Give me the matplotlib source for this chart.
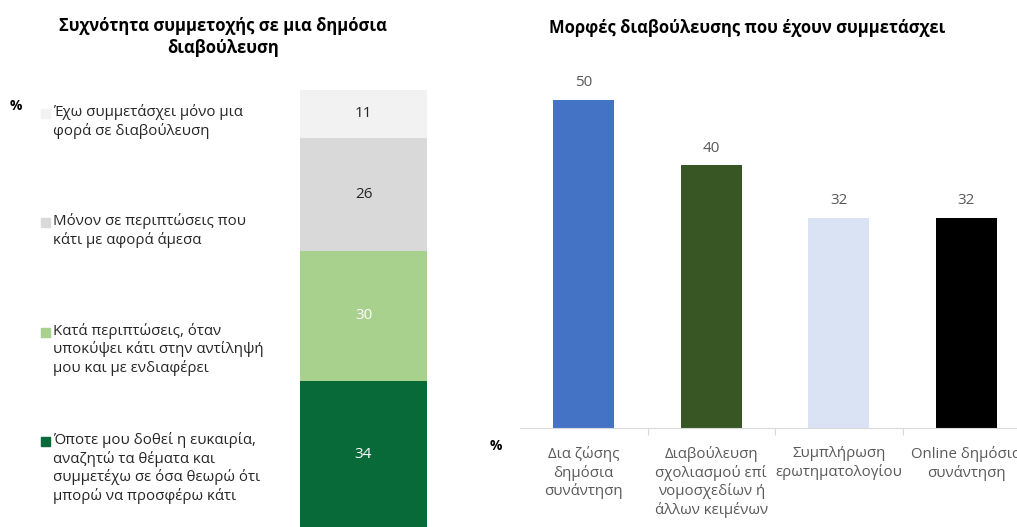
import matplotlib.pyplot as plt
from matplotlib.patches import Rectangle

plt.rcParams['font.family'] = ['Open Sans', 'DejaVu Sans']

# left chart: stacked frequency of participation (bottom -> top)
freq_labels = [
    'Όποτε μου δοθεί η ευκαιρία,\nαναζητώ τα θέματα και\nσυμμετέχω σε όσα θεωρώ ότι\nμπορώ να προσφέρω κάτι',
    'Κατά περιπτώσεις, όταν\nυποκύψει κάτι στην αντίληψή\nμου και με ενδιαφέρει',
    'Μόνον σε περιπτώσεις που\nκάτι με αφορά άμεσα',
    'Έχω συμμετάσχει μόνο μια\nφορά σε διαβούλευση',
]
freq_values = [34, 30, 26, 11]
freq_colors = ['#086A38', '#A9D18E', '#D9D9D9', '#F2F2F2']
freq_text_colors = ['white', 'white', '#262626', '#262626']

# right chart: forms of consultation
form_labels = [
    'Δια ζώσης\nδημόσια\nσυνάντηση',
    'Διαβούλευση\nσχολιασμού επί\nνομοσχεδίων ή\nάλλων κειμένων',
    'Συμπλήρωση\nερωτηματολογίου',
    'Online δημόσια\nσυνάντηση',
]
form_values = [50, 40, 32, 32]
form_colors = ['#4472C4', '#375623', '#DAE3F3', '#000000']

W, H = 1017, 527
fig = plt.figure(figsize=(W / 100, H / 100), dpi=100)


def fx(px):
    return px / W


def fy(py):
    return 1 - py / H


# ---- left stacked bar
ax1 = fig.add_axes([fx(300), 0, fx(127), fy(90)])
bottom = 0
for v, c, tc in zip(freq_values, freq_colors, freq_text_colors):
    ax1.bar(0, v, bottom=bottom, width=1, color=c, linewidth=0)
    ax1.text(0, bottom + v / 2, str(v), ha='center', va='center',
             fontsize=11, color=tc)
    bottom += v
ax1.set_xlim(-0.5, 0.5)
ax1.set_ylim(0.3, bottom)
ax1.axis('off')

fig.text(fx(223), fy(37), 'Συχνότητα συμμετοχής σε μια δημόσια\nδιαβούλευση',
         ha='center', va='center', fontsize=12, fontweight='bold',
         linespacing=1.3)
fig.text(fx(10), fy(106), '%', ha='left', va='center', fontsize=10,
         fontweight='bold')

# legend, top item first
for i, (lab, c) in enumerate(zip(freq_labels[::-1], freq_colors[::-1])):
    y0 = 113 + i * 109.3
    fig.patches.append(Rectangle((fx(41), fy(y0 + 5)), fx(9), 9 / H,
                                 transform=fig.transFigure, color=c))
    fig.text(fx(53), fy(y0 - 9), lab, ha='left', va='top', fontsize=10.8,
             color='#262626', linespacing=1.22)

# ---- right bar chart
ax2 = fig.add_axes([fx(520), fy(428), fx(510), (428 - 67) / H])
x = range(len(form_values))
ax2.bar(x, form_values, width=0.48, color=form_colors)
for xi, v in zip(x, form_values):
    ax2.text(xi, v + 1.5, str(v), ha='center', va='bottom', fontsize=11,
             color='#595959')
ax2.set_xlim(-0.5, len(form_values) - 0.5)
ax2.set_ylim(0, 55)
for s in ['top', 'right', 'left']:
    ax2.spines[s].set_visible(False)
ax2.spines['bottom'].set_color('#D9D9D9')
ax2.set_yticks([])
ax2.set_xticks([i + 0.5 for i in range(len(form_values) - 1)], minor=False)
ax2.set_xticklabels([])
ax2.tick_params(axis='x', length=5, color='#D9D9D9')
for xi, lab in zip(x, form_labels):
    ax2.text(xi, -2.7, lab, ha='center', va='top', fontsize=10.8,
             color='#595959', linespacing=1.24)

fig.text(fx(549), fy(28), 'Μορφές διαβούλευσης που έχουν συμμετάσχει',
         ha='left', va='center', fontsize=12, fontweight='bold')
fig.text(fx(490), fy(446), '%', ha='left', va='center', fontsize=10,
         fontweight='bold')

plt.savefig('out.png', dpi=100)
plt.close()
